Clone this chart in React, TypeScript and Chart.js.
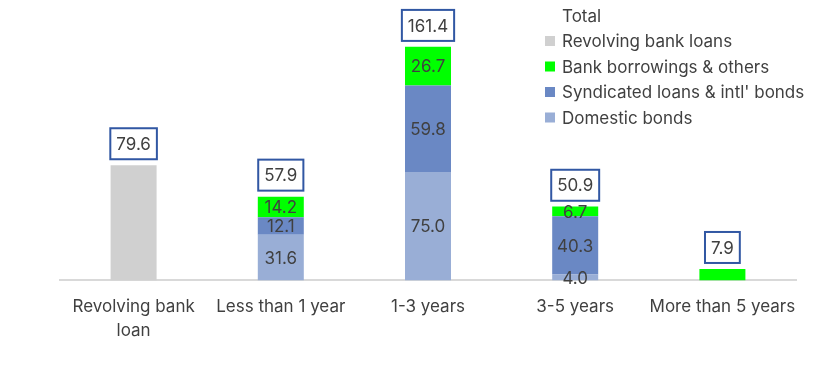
import React, { useEffect, useRef } from "react";
import { Chart, registerables } from "chart.js";

Chart.register(...registerables);

const categories: (string | string[])[] = [
  ["Revolving bank", "loan"],
  "Less than 1 year",
  "1-3 years",
  "3-5 years",
  "More than 5 years",
];
const domesticBonds = [null, 31.6, 75.0, 4.0, null];
const syndicatedLoans = [null, 12.1, 59.8, 40.3, null];
const bankBorrowings = [null, 14.2, 26.7, 6.7, 7.9];
const revolvingLoans = [79.6, null, null, null, null];
const totals = [79.6, 57.9, 161.4, 50.9, 7.9];

const FONT = "Inter";
const TEXT = "#404040";

const innerLabels = {
  id: "innerLabels",
  afterDatasetsDraw(chart: any) {
    const ctx = chart.ctx;
    const n = chart.data.labels.length;
    const counts: number[] = [];
    for (let i = 0; i < n; i++) {
      let c = 0;
      chart.data.datasets.forEach((ds: any) => {
        if (ds.type !== "line" && ds.data[i] != null) c++;
      });
      counts.push(c);
    }
    ctx.save();
    ctx.font = `17px ${FONT}`;
    ctx.fillStyle = TEXT;
    ctx.textAlign = "center";
    ctx.textBaseline = "middle";
    chart.data.datasets.forEach((ds: any, di: number) => {
      if (ds.type === "line") return;
      const meta = chart.getDatasetMeta(di);
      meta.data.forEach((el: any, i: number) => {
        const v = ds.data[i];
        if (v == null || counts[i] < 2) return;
        ctx.fillText(v.toFixed(1), el.x, (el.y + el.base) / 2 + 1);
      });
    });
    // total boxes
    chart.data.datasets.forEach((ds: any, di: number) => {
      if (ds.type !== "line") return;
      const meta = chart.getDatasetMeta(di);
      meta.data.forEach((el: any, i: number) => {
        const v = ds.data[i];
        if (v == null) return;
        const txt = v.toFixed(1);
        const w = ctx.measureText(txt).width + 12;
        const h = 31;
        const bottom = el.y - 6;
        ctx.lineWidth = 2;
        ctx.strokeStyle = "#3157a3";
        ctx.fillStyle = "#ffffff";
        ctx.fillRect(el.x - w / 2, bottom - h, w, h);
        ctx.strokeRect(el.x - w / 2, bottom - h, w, h);
        ctx.fillStyle = TEXT;
        ctx.fillText(txt, el.x, bottom - h / 2 + 1);
      });
    });
    ctx.restore();
  },
};

const customLegend = {
  id: "customLegend",
  afterDraw(chart: any) {
    const ctx = chart.ctx;
    ctx.save();
    ctx.font = `17px ${FONT}`;
    ctx.textAlign = "left";
    ctx.textBaseline = "middle";
    const items = [...chart.data.datasets].reverse();
    items.forEach((ds: any, k: number) => {
      const y = 15.5 + k * 25.5;
      if (ds.type !== "line") {
        ctx.fillStyle = ds.backgroundColor;
        ctx.fillRect(545, y - 5, 10, 10);
      }
      ctx.fillStyle = TEXT;
      ctx.fillText(ds.label, 562, y + 1);
    });
    ctx.restore();
  },
};

export default function App() {
  const ref = useRef<HTMLCanvasElement>(null);
  useEffect(() => {
    document.body.style.margin = "0";
    const chart = new Chart(ref.current!, {
      type: "bar",
      data: {
        labels: categories as any,
        datasets: [
          { label: "Domestic bonds", data: domesticBonds, backgroundColor: "#99aed6" },
          { label: "Syndicated loans & intl' bonds", data: syndicatedLoans, backgroundColor: "#6a88c4" },
          { label: "Bank borrowings & others", data: bankBorrowings, backgroundColor: "#00ff00" },
          { label: "Revolving bank loans", data: revolvingLoans, backgroundColor: "#d0d0d0" },
          {
            type: "line",
            label: "Total",
            data: totals,
            showLine: false,
            pointRadius: 0,
            borderColor: "transparent",
            backgroundColor: "transparent",
          } as any,
        ] as any,
      },
      options: {
        animation: false,
        responsive: false,
        maintainAspectRatio: false,
        layout: { padding: { left: 60, right: 23, top: 20, bottom: 20 } },
        datasets: { bar: { categoryPercentage: 1, barPercentage: 0.3125 } } as any,
        plugins: { legend: { display: false }, tooltip: { enabled: false } },
        scales: {
          x: {
            stacked: true,
            grid: { display: false, drawTicks: false },
            border: { display: true, color: "#d9d9d9", width: 2 },
            ticks: {
              color: TEXT,
              padding: 15,
              maxRotation: 0,
              autoSkip: false,
              font: { family: FONT, size: 17, lineHeight: 1.4 },
            },
          },
          y: { stacked: true, display: false, min: 0, max: 180 },
        },
      },
      plugins: [innerLabels, customLegend],
    });
    return () => chart.destroy();
  }, []);
  return <canvas ref={ref} width={819} height={378} style={{ display: "block" }} />;
}
